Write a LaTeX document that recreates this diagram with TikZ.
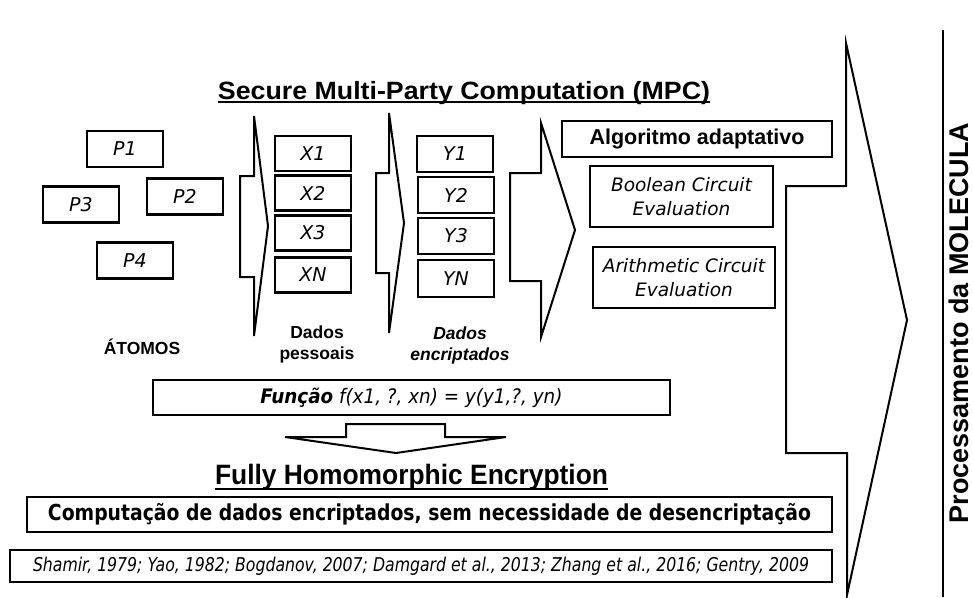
\documentclass[tikz,border=0pt]{standalone}
\usepackage{fontspec}
\usepackage{graphicx}
\setmainfont{Liberation Sans}
\newfontfamily\tahoma{DejaVu Sans}
\usetikzlibrary{positioning}

\begin{document}
\begin{tikzpicture}[x=1pt,y=-1pt,line join=miter,
  caixa/.style={draw,line width=2.6pt,minimum width=76pt,minimum height=36pt,inner sep=0pt,align=center,
    font=\tahoma\itshape\fontsize{19}{24}\selectfont},
  seta/.style={draw,line width=2pt},
  rotulo/.style={inner sep=0pt,align=center,font=\bfseries\fontsize{17.5}{21}\selectfont},
  titulo/.style={inner sep=0pt,anchor=base}]
\useasboundingbox (0,0) rectangle (973,597);
%\draw[red] (0,0) rectangle (973,597);

% atomos
\node[caixa] (p1) at (125,149) {P1};
\node[caixa] (p2) at (185,196.5) {P2};
\node[caixa] (p3) at (81,204.5) {P3};
\node[caixa] (p4) at (135,260.5) {P4};
\node[rotulo] (atomos) at (142,347) {ÁTOMOS};

\draw[seta] (240,176) -- (254,176) -- (254,116) -- (268,226) -- (254,336) -- (254,277) -- (240,277) -- cycle;

% dados pessoais
\node[caixa,minimum height=35pt] (x1) at (313,153.5) {X1};
\node[caixa,minimum height=35pt] (x2) at (313,193) {X2};
\node[caixa,minimum height=35pt] (x3) at (313,233) {X3};
\node[caixa,minimum height=35pt] (xn) at (313,275) {XN};
\node[rotulo] (pessoais) at (317,344) {Dados\\pessoais};

\draw[seta] (376,173) -- (389,173) -- (389,113) -- (404,223) -- (389,333) -- (389,273) -- (376,273) -- cycle;

% dados encriptados
\node[caixa] (y1) at (455,154) {Y1};
\node[caixa] (y2) at (456,195) {Y2};
\node[caixa] (y3) at (456,236) {Y3};
\node[caixa,minimum height=37pt] (yn) at (456,278.5) {YN};
\node[rotulo,font=\bfseries\itshape\fontsize{17.5}{21}\selectfont] (encript) at (460,345) {Dados\\encriptados};

\draw[seta] (510,173) -- (541,173) -- (541,123) -- (575,230) -- (541,337) -- (541,281) -- (510,281) -- cycle;

% algoritmo
\node[caixa,minimum width=270pt,font=\bfseries\fontsize{21.5}{24}\selectfont] (algo) at (697,139) {Algoritmo adaptativo};
\node[caixa,minimum width=183pt,minimum height=61pt,font=\tahoma\itshape\fontsize{18.5}{24}\selectfont] (bool) at (681.5,196.5) {Boolean Circuit\\Evaluation};
\node[caixa,minimum width=182pt,minimum height=61pt,font=\tahoma\itshape\fontsize{18.5}{24}\selectfont] (arit) at (684,277.5) {Arithmetic Circuit\\Evaluation};

\node[titulo] (mpc) at (464,99) {\resizebox{492pt}{\height}{\bfseries\fontsize{25}{28}\selectfont Secure Multi-Party Computation (MPC)}};
\draw[line width=1.8pt] ([yshift=-3pt]mpc.base west) -- ([yshift=-3pt]mpc.base east);

% funcao
\node[caixa,minimum width=517pt,minimum height=35pt] (funcao) at (411.5,397.5)
  {\resizebox{302pt}{\height}{\fontsize{20}{22}\selectfont\textbf{Função} f(x1, ?, xn) = y(y1,?, yn)}};
\draw[seta] (346,424) -- (445,424) -- (445,437) -- (506,437) -- (396,453) -- (285,437) -- (346,437) -- cycle;

\node[titulo] (fhe) at (411.5,484) {\resizebox{393pt}{\height}{\bfseries\fontsize{28}{30}\selectfont Fully Homomorphic Encryption}};
\draw[line width=1.8pt] ([yshift=-5pt]fhe.base west) -- ([yshift=-5pt]fhe.base east);

\node[caixa,minimum width=805pt,minimum height=35pt,font=\tahoma\bfseries\fontsize{22}{24}\selectfont] (comput) at (429.5,514.5)
  {\resizebox{763pt}{\height}{Computação de dados encriptados, sem necessidade de desencriptação}};
\node[caixa,minimum width=822pt,minimum height=32pt] (refs) at (421,566)
  {\resizebox{776pt}{\height}{Shamir, 1979; Yao, 1982; Bogdanov, 2007; Damgard et al., 2013; Zhang et al., 2016; Gentry, 2009}};

% molecula
\draw[seta] (786,186) -- (846,186) -- (846,43) -- (907,320) -- (847,595) -- (847,453) -- (786,453) -- cycle;
\draw[line width=2.2pt] (943,30) -- (943,597);
\node[rotate=90,inner sep=0pt,font=\bfseries\fontsize{27}{30}\selectfont] (molecula) at (959,323) {Processamento da MOLECULA};
\end{tikzpicture}
\end{document}
